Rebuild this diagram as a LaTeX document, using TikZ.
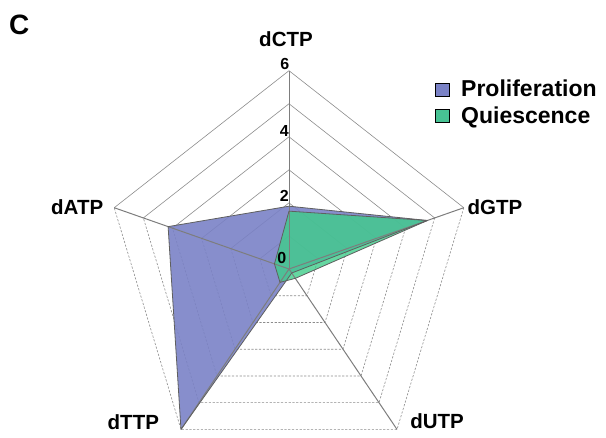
\documentclass[tikz,border=0pt]{standalone}
\usepackage{fontspec}
\setmainfont{Liberation Sans}
\definecolor{profblue}{RGB}{122,130,198}
\definecolor{quigreen}{RGB}{62,205,138}
\definecolor{gridgray}{RGB}{140,140,140}
\definecolor{spokegray}{RGB}{125,125,125}
\definecolor{edgegray}{RGB}{95,95,95}
\tikzset{
  axislabel/.style={font=\bfseries\fontsize{20.5}{22}\selectfont, inner sep=0pt},
  ticklabel/.style={font=\bfseries\fontsize{16}{18}\selectfont, inner sep=0pt, anchor=base east},
  legendtext/.style={font=\bfseries\fontsize{23}{25}\selectfont, inner sep=0pt, anchor=base west},
  ringsolid/.style={draw=gridgray, line width=0.6pt},
  ringdash/.style={draw=gridgray, line width=0.6pt, dash pattern=on 2.2pt off 1.6pt},
  spoke/.style={draw=spokegray, line width=1pt},
  swatch/.style={draw=black, line width=0.9pt, minimum width=14pt, minimum height=13pt, inner sep=0pt},
}
\begin{document}
\begin{tikzpicture}[x=1pt,y=-1pt]
\useasboundingbox (0,0) rectangle (606,438);
\coordinate (O) at (289,269);
\begin{scope}[shift={(O)}, x=30.63pt, y=33.05pt]
  % axis vertices
  \coordinate (C0) at (0,0);
  \foreach \r in {1,...,6}{
    \coordinate (vc\r) at (90:\r);
    \coordinate (vg\r) at (18:\r);
    \coordinate (vu\r) at (-54:\r);
    \coordinate (vt\r) at (-126:\r);
    \coordinate (va\r) at (162:\r);
    \draw[ringsolid] (va\r) -- (vc\r) -- (vg\r);
    \draw[ringdash] (vg\r) -- (vu\r) -- (vt\r) -- (va\r);
  }
  % data
  \coordinate (b1) at (90:1.9);
  \coordinate (b2) at (18:4.75);
  \coordinate (b3) at (-54:0.15);
  \coordinate (b4) at (-126:6);
  \coordinate (b5) at (162:4.15);
  \coordinate (g1) at (90:1.75);
  \coordinate (g2) at (18:4.75);
  \coordinate (g3) at (-54:0.35);
  \coordinate (g4) at (-126:0.5);
  \coordinate (g5) at (162:0.5);
  \fill[profblue, fill opacity=0.9] (b1) -- (b2) -- (b3) -- (b4) -- (b5) -- cycle;
  \fill[quigreen, fill opacity=0.8] (g1) -- (g2) -- (g3) -- (g4) -- (g5) -- cycle;
  % spokes
  \foreach \a in {c,g,u,t,a}{
    \draw[spoke] (C0) -- (v\a6);
  }
  \draw[edgegray, line width=0.8pt, line join=round] (b1) -- (b2) -- (b3) -- (b4) -- (b5) -- cycle;
  \draw[edgegray, line width=0.8pt, line join=round] (g1) -- (g2) -- (g3) -- (g4) -- (g5) -- cycle;
\end{scope}
% tick labels
\node[ticklabel] (t6) at (289.5,70) {6};
\node[ticklabel] (t4) at (289,136.5) {4};
\node[ticklabel] (t2) at (289,202) {2};
\node[ticklabel] (t0) at (286.5,264) {0};
% axis labels
\node[axislabel, anchor=base] (lc) at (286,46.7) {dCTP};
\node[axislabel, anchor=base west] (lg) at (467.5,214.3) {dGTP};
\node[axislabel, anchor=base east] (lu) at (464,428.3) {dUTP};
\node[axislabel, anchor=base west] (lt) at (107.5,429.3) {dTTP};
\node[axislabel, anchor=base west] (la) at (51,215) {dATP};
% panel letter
\node[font=\bfseries\fontsize{28}{30}\selectfont, inner sep=0pt, anchor=base west] (panel) at (9,35) {C};
% legend
\node[swatch, fill=profblue] (sw1) at (442.5,90) {};
\node[swatch, fill=quigreen!85!profblue] (sw2) at (442.5,116.3) {};
\node[legendtext] (lp) at (461,96.7) {Proliferation};
\node[legendtext] (lq) at (461,123.3) {Quiescence};
\end{tikzpicture}
\end{document}
